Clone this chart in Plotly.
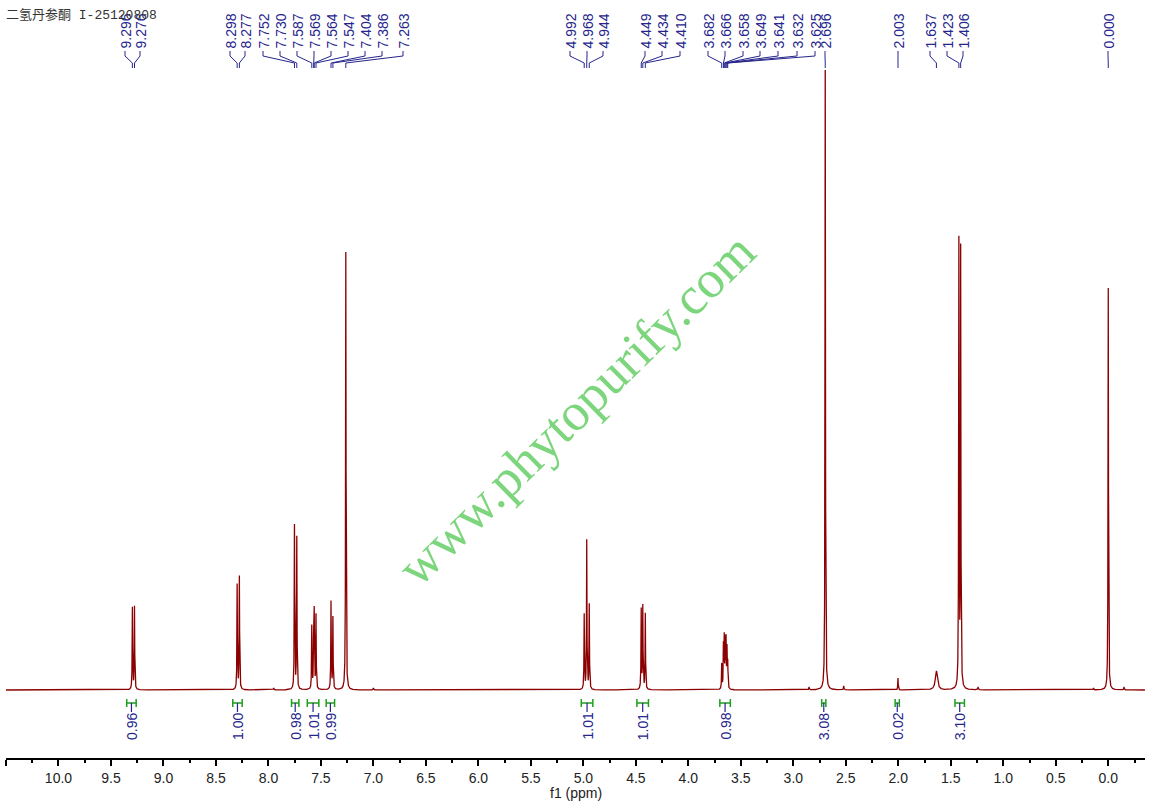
import numpy as np
import plotly.graph_objects as go

# peak table (ppm, height above baseline)
peak_ppm = [9.296, 9.276, 8.298, 8.277, 7.752, 7.730, 7.587, 7.569, 7.564, 7.547,
            7.404, 7.386, 7.263, 4.992, 4.968, 4.944, 4.449, 4.434, 4.410,
            3.682, 3.666, 3.658, 3.649, 3.641, 3.632, 3.625, 2.696, 2.003,
            1.637, 1.423, 1.406, 0.000]
peak_height = [82, 83, 105, 113, 164, 152, 63, 68, 68, 74,
               88, 72, 438, 75, 149, 85, 80, 83, 76,
               25, 42, 49, 45, 47, 38, 25, 640, 12,
               19, 445, 437, 402]
peak_hwhm = [0.0025] * 28 + [0.012, 0.0025, 0.0025, 0.0025]

# small unlabelled bumps on the baseline
minor_ppm = [7.95, 7.00, 2.85, 2.52, 1.24, 0.14, -0.15]
minor_height = [2, 2, 3, 4, 3, 2, 3]

# integrals
integral_from = [9.35, 8.34, 7.78, 7.63, 7.45, 5.02, 4.49, 3.70, 2.73, 2.03, 1.46]
integral_to = [9.26, 8.25, 7.71, 7.52, 7.37, 4.91, 4.38, 3.60, 2.69, 1.99, 1.37]
integral_value = ["0.96", "1.00", "0.98", "1.01", "0.99", "1.01", "1.01",
                  "0.98", "3.08", "0.02", "3.10"]

TITLE = "二氢丹参酮 I-25120808"
WATERMARK = "www.phytopurify.com"

# ---- layout constants (pixels of the 1153x811 page) ----
W, H = 1153, 811
X_RANGE = [10.5, -0.35]
X_LEFT, X_RIGHT = 6, 1145
Y_AXIS, Y_TOP = 758, 70
# where the rotated peak labels sit along the top
LABEL_PX = [125, 140, 230, 245, 263, 280, 297, 314, 331, 348, 365, 382, 403,
            570, 587, 603, 645, 662, 680,
            708, 725, 743, 760, 778, 797, 815, 825, 898, 930, 947, 963, 1108]

NAVY = "#25258c"
GREEN = "#1e9e1e"
RED = "#8b0000"


def px_to_ppm(px):
    return X_RANGE[0] + (px - X_LEFT) / (X_RIGHT - X_LEFT) * (X_RANGE[1] - X_RANGE[0])


def py(pix):
    return (H - pix) / H


# build the trace from the peak table (Lorentzian lines)
ppm = np.arange(X_RANGE[0], X_RANGE[1], -0.0005)
intensity = np.zeros_like(ppm)
for p, h, w in zip(peak_ppm, peak_height, peak_hwhm):
    intensity += h / (1 + ((ppm - p) / w) ** 2)
for p, h in zip(minor_ppm, minor_height):
    intensity += h / (1 + ((ppm - p) / 0.003) ** 2)

fig = go.Figure()
fig.add_trace(go.Scatter(x=ppm, y=intensity, mode="lines",
                         line=dict(color=RED, width=1.3), hoverinfo="skip"))

shapes = []
annotations = []

# peak labels with their connector lines
for p, lx_px in zip(peak_ppm, LABEL_PX):
    lx = px_to_ppm(lx_px)
    shapes.append(dict(
        type="path", xref="x", yref="paper",
        path=f"M {lx},{py(51)} L {lx},{py(56)} L {p},{py(63)} L {p},{py(68)}",
        line=dict(color=NAVY, width=1)))
    annotations.append(dict(
        x=lx, y=py(50), xref="x", yref="paper", text=f"{p:.3f}",
        textangle=-90, xanchor="center", yanchor="bottom", showarrow=False,
        borderpad=0, font=dict(family="Liberation Sans", size=14, color=NAVY)))

# integral brackets and values
for a, b, v in zip(integral_from, integral_to, integral_value):
    mid = (a + b) / 2
    shapes.append(dict(type="line", xref="x", yref="paper", x0=a, x1=b,
                       y0=py(703), y1=py(703), line=dict(color=GREEN, width=1.5)))
    for e in (a, b):
        shapes.append(dict(type="line", xref="x", yref="paper", x0=e, x1=e,
                           y0=py(699), y1=py(707), line=dict(color=GREEN, width=1.5)))
    shapes.append(dict(type="line", xref="x", yref="paper", x0=mid, x1=mid,
                       y0=py(703), y1=py(712), line=dict(color=NAVY, width=1.2)))
    annotations.append(dict(
        x=mid, y=py(712), xref="x", yref="paper", text=v, textangle=-90,
        xanchor="center", yanchor="top", showarrow=False, borderpad=0,
        font=dict(family="Liberation Sans", size=14, color=NAVY)))

annotations.append(dict(
    x=(X_LEFT + X_RIGHT) / 2 / W, y=py(793), xref="paper", yref="paper",
    text="f1 (ppm)", xanchor="center", yanchor="middle", showarrow=False,
    font=dict(family="Liberation Sans", size=14, color="#222")))
annotations.append(dict(
    x=4 / W, y=py(15), xref="paper", yref="paper", text=TITLE,
    xanchor="left", yanchor="middle", showarrow=False,
    font=dict(family="Liberation Mono, Noto Sans CJK SC", size=13, color="#333")))
annotations.append(dict(
    x=576 / W, y=py(409), xref="paper", yref="paper", text=WATERMARK,
    textangle=-44.5, xanchor="center", yanchor="middle", showarrow=False,
    font=dict(family="Liberation Serif", size=53, color="#7dd67d")))

fig.update_layout(
    width=W, height=H,
    margin=dict(l=0, r=0, t=0, b=0),
    paper_bgcolor="white", plot_bgcolor="white",
    showlegend=False,
    shapes=shapes, annotations=annotations,
    xaxis=dict(
        range=X_RANGE, domain=[X_LEFT / W, X_RIGHT / W],
        showgrid=False, zeroline=False,
        showline=True, linecolor="black", linewidth=1.5,
        ticks="outside", ticklen=6, tickwidth=1.5, tickcolor="black",
        tick0=0, dtick=0.5, tickformat=".1f",
        minor=dict(ticks="outside", dtick=0.25, ticklen=3, tickwidth=1.5, tickcolor="black"),
        tickfont=dict(family="Liberation Sans", size=14, color="#222"),
    ),
    yaxis=dict(
        range=[-(Y_AXIS - 690), 690 - Y_TOP], domain=[py(Y_AXIS), py(Y_TOP)],
        visible=False,
    ),
)

fig.write_html("out.html", config={"displayModeBar": False},
               post_script="document.body.style.margin='0';")
